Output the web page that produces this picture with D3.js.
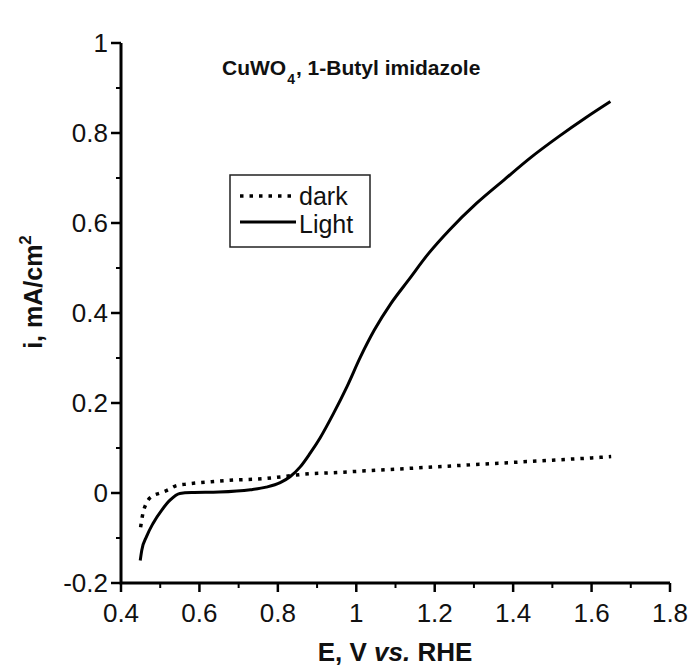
<!DOCTYPE html>
<meta charset="utf-8">
<head>
    <title>CuWO4 photocurrent</title>
</head>
<script src="https://d3js.org/d3.v7.min.js"></script>

<style>
    body { margin: 0; background: #fff; }
    text { font-family: "Liberation Sans", Arial, Helvetica, sans-serif; fill: #111; }
    .axisline { stroke: #000; stroke-width: 3px; fill: none; }
    .tick-major { stroke: #000; stroke-width: 2.5px; }
    .tick-minor { stroke: #000; stroke-width: 2px; }
    .light { stroke: #000; stroke-width: 3px; fill: none; }
    .dark { stroke: #000; stroke-width: 3.5px; fill: none; stroke-dasharray: 3.5,6; }
</style>
<div id="viz"></div>
<script>

// data
var darkE = [0.45, 0.455, 0.465, 0.48, 0.50, 0.52, 0.54, 0.57, 0.60, 0.63, 0.69, 0.75, 0.81, 0.87, 0.94, 1.0, 1.1, 1.2, 1.3, 1.4, 1.5, 1.6, 1.65];
var darkI = [-0.076, -0.049, -0.022, -0.007, 0.0, 0.007, 0.016, 0.020, 0.023, 0.025, 0.029, 0.031, 0.036, 0.042, 0.045, 0.048, 0.053, 0.058, 0.063, 0.068, 0.073, 0.078, 0.081];

var lightE = [0.449, 0.453, 0.465, 0.482, 0.504, 0.525, 0.55, 0.58, 0.65, 0.73, 0.77, 0.806, 0.831, 0.857, 0.882, 0.908, 0.942, 0.976, 1.011, 1.046, 1.089, 1.133, 1.185, 1.237, 1.307, 1.377, 1.447, 1.516, 1.585, 1.648];
var lightI = [-0.150, -0.127, -0.097, -0.067, -0.038, -0.016, -0.001, 0.001, 0.002, 0.007, 0.013, 0.023, 0.036, 0.058, 0.088, 0.123, 0.177, 0.236, 0.303, 0.362, 0.422, 0.473, 0.533, 0.584, 0.644, 0.696, 0.747, 0.792, 0.834, 0.870];

var xMajor = [0.4, 0.6, 0.8, 1.0, 1.2, 1.4, 1.6, 1.8];
var xMinor = [0.5, 0.7, 0.9, 1.1, 1.3, 1.5, 1.7];
var xLabels = ['0.4', '0.6', '0.8', '1', '1.2', '1.4', '1.6', '1.8'];
var yMajor = [-0.2, 0, 0.2, 0.4, 0.6, 0.8, 1.0];
var yMinor = [-0.1, 0.1, 0.3, 0.5, 0.7, 0.9];
var yLabels = ['-0.2', '0', '0.2', '0.4', '0.6', '0.8', '1'];

var W = 694, H = 666;
var svg = d3.select('#viz')
    .append('svg')
        .attr('width', W)
        .attr('height', H);

var x = d3.scaleLinear().domain([0.4, 1.8]).range([121, 670]);
var y = d3.scaleLinear().domain([-0.2, 1]).range([583, 43]);

// x axis ticks (outside, downward)
svg.append('g').selectAll('line').data(xMajor).enter().append('line')
    .attr('class', 'tick-major')
    .attr('x1', function(d) { return x(d); }).attr('x2', function(d) { return x(d); })
    .attr('y1', y(-0.2)).attr('y2', y(-0.2) + 9);
svg.append('g').selectAll('line').data(xMinor).enter().append('line')
    .attr('class', 'tick-minor')
    .attr('x1', function(d) { return x(d); }).attr('x2', function(d) { return x(d); })
    .attr('y1', y(-0.2)).attr('y2', y(-0.2) + 5);
svg.append('g').selectAll('text').data(xMajor).enter().append('text')
    .attr('x', function(d) { return x(d); })
    .attr('y', 622)
    .style('font-size', '26px')
    .style('text-anchor', 'middle')
    .text(function(d, i) { return xLabels[i]; });

// y axis ticks (outside, leftward)
svg.append('g').selectAll('line').data(yMajor).enter().append('line')
    .attr('class', 'tick-major')
    .attr('y1', function(d) { return y(d); }).attr('y2', function(d) { return y(d); })
    .attr('x1', x(0.4)).attr('x2', x(0.4) - 10);
svg.append('g').selectAll('line').data(yMinor).enter().append('line')
    .attr('class', 'tick-minor')
    .attr('y1', function(d) { return y(d); }).attr('y2', function(d) { return y(d); })
    .attr('x1', x(0.4)).attr('x2', x(0.4) - 5);
svg.append('g').selectAll('text').data(yMajor).enter().append('text')
    .attr('x', 108)
    .attr('y', function(d) { return y(d) + 9; })
    .style('font-size', '26px')
    .style('text-anchor', 'end')
    .text(function(d, i) { return yLabels[i]; });

// axis lines
svg.append('path')
    .attr('class', 'axisline')
    .attr('d', 'M' + x(0.4) + ',' + y(1) + 'V' + y(-0.2) + 'H' + x(1.8));

// curves
var line = d3.line()
    .x(function(d) { return x(d[0]); })
    .y(function(d) { return y(d[1]); })
    .curve(d3.curveMonotoneX);

svg.append('path')
    .datum(darkE.map(function(e, i) { return [e, darkI[i]]; }))
    .attr('class', 'dark')
    .attr('d', line);

svg.append('path')
    .datum(lightE.map(function(e, i) { return [e, lightI[i]]; }))
    .attr('class', 'light')
    .attr('d', line);

// title, pieces placed one after another so the subscript does not collide
var tx = 222;
var t1 = svg.append('text')
    .attr('x', tx).attr('y', 75)
    .style('font-size', '21px')
    .style('font-weight', 'bold')
    .text('CuWO');
tx += t1.node().getComputedTextLength() + 1;
var t2 = svg.append('text')
    .attr('x', tx).attr('y', 84)
    .style('font-size', '14px')
    .style('font-weight', 'bold')
    .text('4');
tx += t2.node().getComputedTextLength() + 1;
svg.append('text')
    .attr('x', tx).attr('y', 75)
    .style('font-size', '21px')
    .style('font-weight', 'bold')
    .text(', 1-Butyl imidazole');

// legend
var lg = svg.append('g');
lg.append('rect')
    .attr('x', 230).attr('y', 175)
    .attr('width', 140).attr('height', 72)
    .attr('fill', 'none')
    .attr('stroke', '#222')
    .attr('stroke-width', 1.5);
lg.append('line')
    .attr('class', 'dark')
    .attr('x1', 240).attr('x2', 296)
    .attr('y1', 196).attr('y2', 196);
lg.append('line')
    .attr('class', 'light')
    .attr('x1', 240).attr('x2', 296)
    .attr('y1', 222).attr('y2', 222);
lg.append('text')
    .attr('x', 299).attr('y', 205)
    .style('font-size', '25px')
    .text('dark');
lg.append('text')
    .attr('x', 299).attr('y', 233)
    .style('font-size', '25px')
    .text('Light');

// axis titles
var xt = svg.append('text')
    .attr('x', 395)
    .attr('y', 661)
    .style('font-size', '26px')
    .style('font-weight', 'bold')
    .style('text-anchor', 'middle');
xt.append('tspan').text('E, V ');
xt.append('tspan').style('font-style', 'italic').text('vs.');
xt.append('tspan').text(' RHE');

var yt = svg.append('text')
    .attr('transform', 'translate(42,' + 292 + ')rotate(-90)')
    .style('font-size', '25px')
    .style('font-weight', 'bold')
    .style('text-anchor', 'middle');
yt.append('tspan').text('i, mA/cm');
yt.append('tspan').attr('dy', -11).style('font-size', '17px').text('2');

</script>
